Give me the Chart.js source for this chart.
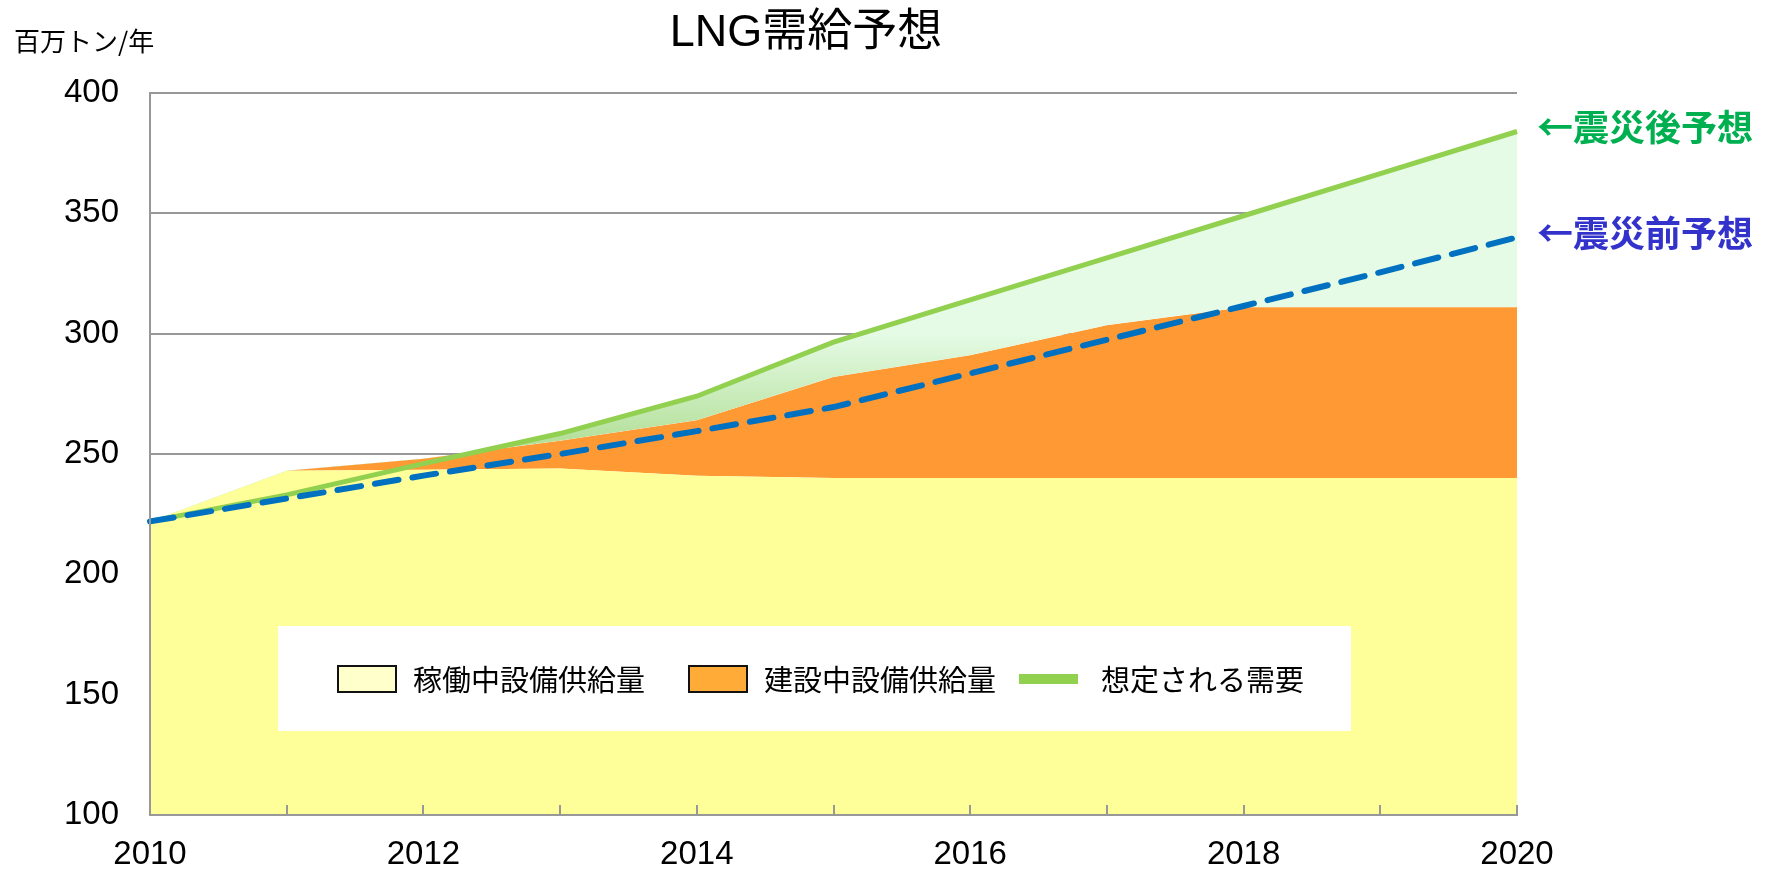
<!DOCTYPE html>
<html>
<head>
<meta charset="utf-8">
<script src="https://cdn.jsdelivr.net/npm/chart.js@4"></script>
<style>
html,body{margin:0;padding:0;background:#ffffff;}
canvas{display:block;}
</style>
</head>
<body>
<canvas id="c" width="1765" height="869"></canvas>
<script>
// ---- data ----
const years = ['2010','2011','2012','2013','2014','2015','2016','2017','2018','2019','2020'];
const operatingSupply    = [222, 243, 243.5, 244, 241, 240, 240, 240, 240, 240, 240];   // 稼働中設備供給量
const constructionSupply = [0, 0, 4.5, 11.5, 23, 42, 51, 63.5, 71, 71, 71];           // 建設中設備供給量 (stacked on top)
const demandPostQuake    = [222, 233, 246, 258.5, 274, 296.5, 314, 331.5, 349, 366.5, 384]; // 想定される需要 (震災後)
const demandPreQuake     = [222, 231.5, 241, 250, 259.5, 269.5, 283.5, 297.5, 311.5, 325.5, 340]; // 震災前予想
const yMin = 100, yMax = 400, yStep = 50;

const titleText = 'LNG需給予想';
const unitText = '百万トン/年';
const postLabel = '←震災後予想';
const preLabel = '←震災前予想';

// ---- styles ----
const GRID = '#989898';
const TICK_FONT = {family: '"Liberation Sans", Arial, sans-serif', size: 33};
const CJK = '"Noto Sans CJK JP", sans-serif';

function greenGradient(context) {
  const chart = context.chart;
  const {chartArea, scales} = chart;
  if (!chartArea || !scales || !scales.y) return 'rgba(0,0,0,0)';
  const g = chart.ctx.createLinearGradient(0, scales.y.getPixelForValue(255), 0, scales.y.getPixelForValue(300));
  g.addColorStop(0, '#b4e09a');
  g.addColorStop(1, '#e5fbe5');
  return g;
}

const legendItems = [
  {ds: 2, type: 'box', fill: '#ffffcc'},
  {ds: 3, type: 'box', fill: '#ffab38'},
  {ds: 1, type: 'line', fill: '#92d050'}
];

const decor = {
  id: 'decor',
  afterDatasetsDraw(chart) {
    const {ctx, chartArea: a, scales: {x}} = chart;
    ctx.save();
    // inner tick marks on the x axis
    ctx.strokeStyle = GRID;
    ctx.lineWidth = 2;
    years.forEach((_, i) => {
      const px = Math.round(x.getPixelForValue(i));
      ctx.beginPath();
      ctx.moveTo(px, a.bottom);
      ctx.lineTo(px, a.bottom - 10);
      ctx.stroke();
    });
    // legend panel
    ctx.fillStyle = '#ffffff';
    ctx.fillRect(278, 626, 1073, 105);
    const cy = 679;
    const xs = [338, 689, 1019];
    ctx.font = '29px ' + CJK;
    ctx.textBaseline = 'middle';
    ctx.textAlign = 'left';
    legendItems.forEach((it, k) => {
      const lx = xs[k];
      if (it.type === 'box') {
        ctx.fillStyle = it.fill;
        ctx.fillRect(lx, cy - 13, 58, 26);
        ctx.strokeStyle = '#111111';
        ctx.lineWidth = 2;
        ctx.strokeRect(lx, cy - 13, 58, 26);
        ctx.fillStyle = '#000000';
        ctx.fillText(chart.data.datasets[it.ds].label, lx + 75, cy + 1);
      } else {
        ctx.fillStyle = it.fill;
        ctx.fillRect(lx, cy - 5, 59, 10);
        ctx.fillStyle = '#000000';
        ctx.fillText(chart.data.datasets[it.ds].label, lx + 82, cy + 1);
      }
    });
    ctx.restore();
  },
  afterDraw(chart) {
    const {ctx, scales: {y}} = chart;
    ctx.save();
    ctx.fillStyle = '#000000';
    ctx.textBaseline = 'middle';
    ctx.textAlign = 'center';
    ctx.font = '45px "Liberation Sans", ' + CJK;
    ctx.fillText(titleText, 806, 34);
    ctx.textAlign = 'left';
    ctx.font = '26px ' + CJK;
    ctx.fillText(unitText, 14, 41);
    ctx.font = 'bold 36px ' + CJK;
    ctx.fillStyle = '#00b050';
    ctx.fillText(postLabel, 1537, y.getPixelForValue(demandPostQuake[demandPostQuake.length - 1]) - 4);
    ctx.fillStyle = '#3333cc';
    ctx.fillText(preLabel, 1537, y.getPixelForValue(demandPreQuake[demandPreQuake.length - 1]) - 4);
    ctx.restore();
  }
};

new Chart(document.getElementById('c'), {
  type: 'line',
  data: {
    labels: years,
    datasets: [
      {
        label: '震災前予想', data: demandPreQuake, stack: 'pre', order: 0,
        borderColor: '#0070c0', borderWidth: 6, borderDash: [24, 14], borderCapStyle: 'round',
        fill: false, pointRadius: 0
      },
      {
        label: '想定される需要', data: demandPostQuake, stack: 'post', order: 1,
        borderColor: '#92d050', borderWidth: 5, backgroundColor: greenGradient,
        fill: {target: 3, below: 'rgba(0,0,0,0)'}, pointRadius: 0
      },
      {
        label: '稼働中設備供給量', data: operatingSupply, stack: 'supply', order: 2,
        borderWidth: 0, borderColor: 'rgba(0,0,0,0)', backgroundColor: '#ffff99',
        fill: 'start', pointRadius: 0
      },
      {
        label: '建設中設備供給量', data: constructionSupply, stack: 'supply', order: 3,
        borderWidth: 0, borderColor: 'rgba(0,0,0,0)', backgroundColor: '#ff9933',
        fill: {target: 2}, pointRadius: 0
      }
    ]
  },
  options: {
    responsive: false,
    animation: false,
    devicePixelRatio: 1,
    layout: {padding: {top: 93, right: 248, bottom: 0, left: 0}},
    plugins: {
      legend: {display: false},
      title: {display: false},
      tooltip: {enabled: false}
    },
    elements: {line: {tension: 0}, point: {radius: 0}},
    scales: {
      x: {
        grid: {display: false, drawTicks: false},
        border: {display: true, color: GRID, width: 2, z: 1},
        ticks: {
          autoSkip: false, maxRotation: 0, minRotation: 0, padding: 20, color: '#000000', font: TICK_FONT,
          callback: function (v, i) { return i % 2 === 0 ? this.getLabelForValue(v) : ''; }
        },
        afterFit: s => { s.height = 54; }
      },
      y: {
        stacked: true,
        min: yMin, max: yMax,
        ticks: {stepSize: yStep, padding: 31, color: '#000000', font: TICK_FONT},
        grid: {color: GRID, lineWidth: 2, drawTicks: false},
        border: {display: true, color: GRID, width: 2, z: 1},
        afterFit: s => { s.width = 150; }
      }
    }
  },
  plugins: [decor]
});
</script>
</body>
</html>
